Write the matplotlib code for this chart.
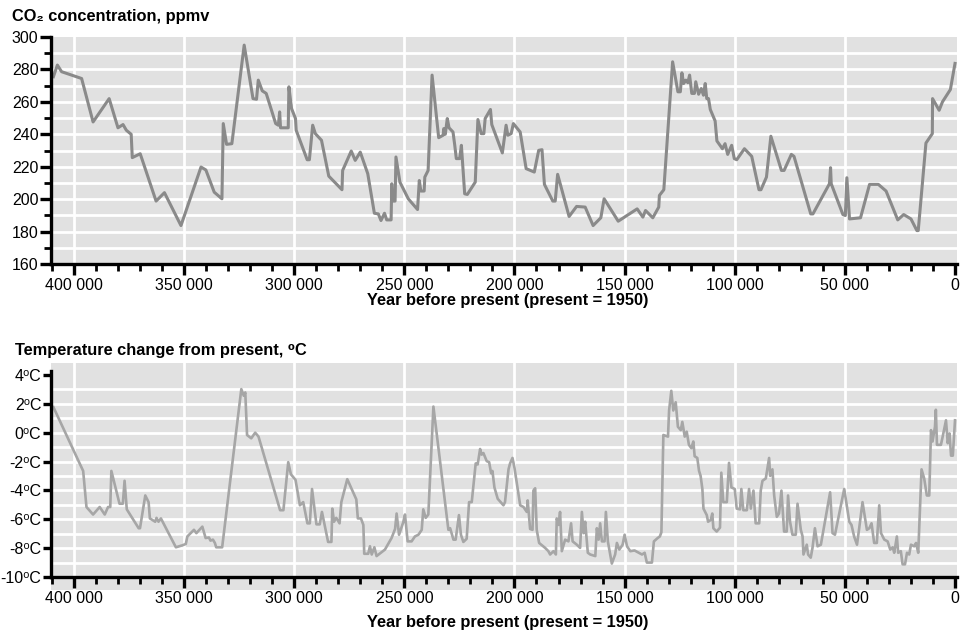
import numpy as np
import matplotlib.pyplot as plt
from matplotlib.ticker import MultipleLocator

plt.rcParams['font.family'] = ['Liberation Sans', 'DejaVu Sans']

# CO2 (ppmv), oldest first
co2_years = [409300, 407500, 405600, 396500, 391300, 384000, 380000, 377700, 376200, 374000,
             373500, 369900, 362700, 358900, 351400, 342300, 340100, 336300, 332800, 332200,
             330700, 328300, 322700, 318700, 317100, 316300, 314500, 312700, 308400, 307200,
             306600, 306200, 302700, 302400, 301200, 299400, 299100, 294100, 293100, 291600,
             290400, 287600, 284300, 278300, 278000, 274100, 272300, 270000, 266600, 263600,
             261800, 260600, 259000, 258000, 256000, 255700, 255300, 254200, 253800, 252000,
             248200, 244000, 243200, 242500, 241000, 240700, 239200, 237400, 234400, 232400,
             232100, 231400, 230500, 229700, 227900, 227100, 226400, 224900, 224100, 222600,
             221400, 217800, 216600, 215100, 213900, 213300, 210900, 210300, 205500, 203800,
             203000, 201500, 200500, 197400, 194700, 191000, 189000, 187500, 186400, 182600,
             181500, 180400, 175200, 171800, 167900, 164300, 160800, 159300, 152900, 144300,
             141700, 140500, 137200, 134500, 134200, 132200, 128200, 125800, 124700, 124000,
             123200, 122200, 121300, 120500, 119500, 118300, 117700, 116400, 115200, 114200,
             113400, 112700, 111900, 111100, 108900, 108100, 105600, 104400, 103200, 101400,
             100200, 99100, 95600, 92300, 89000, 88100, 85600, 83600, 78800, 77600,
             74300, 73100, 65500, 64500, 57000, 56500, 56200, 50900, 49800, 49100,
             47900, 42900, 38800, 34800, 31300, 26000, 23300, 20000, 17300, 16700,
             13200, 10300, 10200, 7200, 5700, 2100, 0]
co2_ppm = [275.5, 282.7, 278.6, 274.4, 247.6, 262.0, 244.0, 246.0, 242.5, 240.0,
           225.6, 228.0, 198.8, 204.0, 183.7, 219.8, 218.0, 204.3, 200.2, 246.6,
           233.8, 234.2, 295.0, 262.0, 261.6, 273.4, 266.8, 265.2, 246.6, 245.6,
           253.8, 244.0, 244.0, 269.3, 255.9, 249.7, 242.5, 224.3, 224.3, 245.6,
           240.4, 236.3, 214.2, 205.8, 217.7, 229.7, 223.9, 229.0, 215.7, 191.3,
           190.9, 186.8, 191.3, 187.2, 187.2, 209.5, 198.8, 198.8, 226.0, 210.5,
           200.2, 193.6, 211.5, 205.0, 205.0, 213.6, 217.7, 276.5, 237.9, 239.4,
           243.5, 240.0, 249.7, 244.0, 241.4, 233.2, 225.0, 225.0, 233.2, 203.3,
           202.9, 210.5, 249.1, 240.4, 240.4, 249.7, 255.3, 246.0, 228.5, 245.6,
           239.4, 240.4, 246.6, 241.4, 218.8, 216.7, 230.1, 230.5, 209.1, 198.8,
           198.8, 215.3, 189.3, 195.5, 195.1, 183.7, 188.5, 200.2, 186.4, 194.0,
           188.9, 193.0, 188.5, 195.1, 202.3, 205.8, 284.7, 266.2, 266.2, 277.9,
           271.3, 273.4, 271.8, 276.5, 265.2, 265.2, 272.4, 264.7, 268.2, 264.1,
           271.3, 262.0, 262.0, 255.3, 248.2, 235.9, 231.1, 234.2, 227.6, 233.2,
           225.0, 224.3, 231.1, 226.4, 205.8, 205.8, 213.6, 238.8, 217.7, 217.7,
           227.6, 226.4, 190.9, 190.9, 209.5, 219.4, 209.5, 190.5, 189.9, 213.2,
           187.8, 188.5, 209.1, 209.1, 205.0, 187.2, 190.5, 187.8, 180.6, 180.6,
           234.6, 240.4, 262.0, 254.8, 260.0, 267.6, 283.7]

# temperature change from present (deg C), oldest first
temp_years = [409300, 395800, 394300, 391300, 388300, 386000, 384500, 383500, 383000, 379300,
              377800, 377000, 376000, 370600, 370000, 367600, 366100, 365500, 363100, 362500,
              361600, 360500, 353700, 350700, 349200, 348500, 345500, 344400, 341700, 340200,
              338700, 338000, 336900, 336000, 335400, 332700, 324000, 322900, 322200, 321400,
              319500, 317700, 316200, 306400, 304900, 302700, 301500, 299400, 297400, 295900,
              294000, 292900, 291900, 289900, 288400, 287400, 284600, 283100, 282700, 281900,
              280900, 279400, 278600, 275900, 271800, 271100, 269700, 268600, 268200, 266400,
              265600, 264800, 263600, 262600, 258800, 255800, 254200, 253500, 252400, 250500,
              249700, 248500, 246700, 245200, 243600, 242100, 241400, 240300, 239100, 236800,
              230000, 229200, 227700, 226700, 225200, 224300, 223200, 221700, 220600, 219400,
              217600, 216700, 215600, 214900, 214100, 212600, 211500, 210600, 210000, 209100,
              207600, 205000, 204300, 202700, 202000, 200900, 200000, 197400, 195900, 194400,
              194000, 192900, 191800, 191400, 190600, 189900, 188800, 186100, 184600, 183800,
              182300, 181200, 180800, 180000, 179300, 178500, 177000, 175500, 174300, 173600,
              171700, 170200, 169400, 168600, 167900, 166700, 165600, 163300, 162600, 161800,
              161100, 160300, 159100, 158500, 157600, 155800, 154300, 153500, 152400, 150900,
              150000, 148900, 147400, 145500, 143600, 142100, 140900, 139900, 137600, 136700,
              135000, 134000, 133300, 132400, 130300, 129800, 128800, 127900, 126800, 125800,
              124500, 123800, 122700, 121800, 120800, 119700, 118800, 118200, 117000, 116200,
              115500, 114700, 114200, 112700, 112100, 110900, 110200, 109700, 108200, 106700,
              106100, 105200, 103600, 102600, 101500, 100000, 99100, 97600, 97000, 96100,
              94500, 93500, 92700, 91500, 90500, 88900, 88200, 87400, 85900, 84400,
              83900, 82900, 82100, 80900, 79900, 78800, 77600, 76400, 75800, 74900,
              73800, 72300, 71500, 70000, 69200, 68800, 67300, 66700, 65500, 64700,
              63600, 62400, 60900, 56700, 55600, 54500, 50300, 48000, 47000, 45800,
              44500, 43500, 42000, 40000, 38900, 37900, 36700, 35500, 34400, 33600,
              32100, 30600, 29400, 28300, 27600, 26400, 25800, 24600, 23800, 22700,
              21800, 20800, 20000, 18500, 17700, 16700, 15200, 14000, 12800, 11700,
              10900, 10200, 9100, 8700, 8200, 6400, 5600, 4100, 3300, 2500,
              1800, 1000, 0]
temp_c = [1.77, -2.65, -5.15, -5.67, -5.15, -5.67, -5.15, -5.15, -2.65, -4.92,
          -4.92, -3.33, -5.31, -6.62, -6.62, -4.35, -4.81, -5.94, -6.17, -5.90,
          -6.17, -5.94, -7.94, -7.80, -7.71, -7.19, -6.73, -6.96, -6.51, -7.30,
          -7.26, -7.48, -7.41, -7.64, -7.94, -7.94, 3.02, 2.56, 2.79, -0.16,
          -0.39, 0.00, -0.27, -5.37, -5.37, -2.04, -2.88, -3.27, -5.03, -4.81,
          -6.28, -6.28, -3.90, -6.35, -6.35, -5.49, -7.57, -7.57, -5.26, -6.17,
          -5.90, -6.28, -4.81, -3.22, -4.62, -5.94, -5.94, -6.39, -8.39, -8.39,
          -7.87, -8.44, -7.94, -8.55, -8.10, -7.30, -6.67, -5.60, -7.07, -6.21,
          -5.67, -7.53, -7.53, -7.19, -7.07, -6.73, -5.31, -5.90, -5.67, 1.81,
          -6.73, -6.62, -7.41, -7.41, -5.71, -7.07, -7.57, -7.35, -4.81, -4.81,
          -2.13, -2.20, -1.13, -1.52, -1.41, -1.97, -2.04, -2.81, -2.65, -3.79,
          -4.58, -5.03, -4.81, -2.54, -2.13, -1.75, -2.43, -5.03, -5.15, -5.49,
          -4.69, -6.67, -6.73, -4.01, -3.85, -6.73, -7.64, -7.98, -8.21, -8.44,
          -8.21, -8.44, -5.94, -6.39, -5.49, -8.21, -7.41, -7.53, -6.28, -7.53,
          -7.76, -7.98, -5.49, -6.96, -6.17, -8.32, -8.44, -8.55, -6.62, -7.41,
          -6.28, -7.53, -7.53, -5.49, -7.53, -9.07, -8.44, -7.64, -8.10, -7.76,
          -7.07, -7.87, -8.21, -8.16, -8.32, -8.44, -8.32, -9.00, -9.00, -7.53,
          -7.30, -7.19, -6.90, -0.16, -0.27, 1.54, 2.90, 1.54, 2.11, 0.41,
          0.18, 0.75, -0.27, 0.07, -0.84, -1.07, -0.61, -1.63, -1.75, -2.65,
          -2.99, -3.90, -5.26, -5.71, -6.17, -6.05, -5.60, -6.62, -6.85, -6.58,
          -2.77, -4.81, -4.81, -2.09, -3.79, -3.90, -5.26, -5.31, -3.90, -5.37,
          -5.37, -3.90, -5.26, -4.01, -6.28, -6.28, -4.01, -3.33, -3.17, -1.75,
          -2.99, -2.54, -4.35, -5.83, -5.60, -4.01, -6.85, -6.85, -4.35, -6.17,
          -7.07, -7.07, -4.92, -6.73, -7.19, -8.44, -7.76, -8.44, -8.66, -7.98,
          -6.62, -7.87, -7.76, -4.13, -6.96, -7.07, -3.90, -6.17, -6.39, -7.19,
          -7.76, -6.62, -4.81, -6.73, -6.62, -6.28, -7.64, -7.64, -5.03, -6.96,
          -7.41, -7.53, -8.10, -7.94, -8.32, -7.19, -8.32, -8.21, -9.12, -9.12,
          -8.32, -8.44, -7.76, -7.87, -7.64, -8.32, -2.54, -3.17, -4.35, -4.35,
          0.18, -0.61, 0.41, 1.59, -0.84, -0.84, -0.27, 0.86, -0.73, -0.05,
          -1.59, -1.59, 0.86]

x_ticks = [400000, 350000, 300000, 250000, 200000, 150000, 100000, 50000, 0]
x_labels = ['400 000', '350 000', '300 000', '250 000', '200 000',
            '150 000', '100 000', '50 000', '0']
co2_ticks = [160, 180, 200, 220, 240, 260, 280, 300]
temp_ticks = [-10, -8, -6, -4, -2, 0, 2, 4]
temp_labels = [f'{t}\u2070C' for t in temp_ticks]

bg = '#e1e1e1'
W, H = 967, 637
tick_fs = 11.5
title_fs = 11.8

fig = plt.figure(figsize=(W / 100, H / 100), dpi=100)
ax1 = fig.add_axes([51 / W, 1 - 264 / H, 906 / W, 227 / H])
ax2 = fig.add_axes([51 / W, 1 - 590 / H, 906 / W, 227 / H])

for ax in (ax1, ax2):
    ax.set_facecolor(bg)
    ax.set_xlim(410400, -900)
    for s in ['top', 'right']:
        ax.spines[s].set_visible(False)
    for s in ['left', 'bottom']:
        ax.spines[s].set_linewidth(2.4)
    ax.set_xticks(x_ticks, x_labels)
    ax.xaxis.set_minor_locator(MultipleLocator(10000))
    ax.tick_params(axis='x', which='major', length=8, width=2.4, pad=2, labelsize=tick_fs)
    ax.tick_params(axis='x', which='minor', length=5, width=2)
    for x in x_ticks[:-1]:
        ax.axvline(x, color='white', lw=2, zorder=0.5)

# CO2 panel
ax1.set_ylim(160, 300)
ax1.set_yticks(co2_ticks)
ax1.yaxis.set_minor_locator(MultipleLocator(10))
ax1.tick_params(axis='y', which='major', length=8, width=2.4, pad=1, labelsize=tick_fs)
ax1.tick_params(axis='y', which='minor', length=5, width=2)
for v in range(170, 300, 10):
    ax1.axhline(v, color='white', lw=2, zorder=0.5)
ax1.plot(co2_years, co2_ppm, color='#8a8a8a', lw=2.2, zorder=2)

# temperature panel
ax2.set_ylim(-10.9, 4.83)
ax2.spines['bottom'].set_position(('data', -10))
ax2.spines['left'].set_bounds(-10, 4.3)
ax2.set_yticks(temp_ticks, temp_labels)
ax2.tick_params(axis='y', which='major', length=6, width=2.4, pad=1, labelsize=tick_fs)
for v in range(-9, 4):
    ax2.axhline(v, color='white', lw=2, zorder=0.5)
ax2.plot(temp_years, temp_c, color='#a6a6a6', lw=1.9, zorder=2)

fig.text(12 / W, 1 - 17 / H, 'CO\u2082 concentration, ppmv', fontsize=title_fs,
         fontweight='bold', ha='left', va='center')
fig.text(15 / W, 1 - 350 / H, 'Temperature change from present, \u2070C', fontsize=title_fs,
         fontweight='bold', ha='left', va='center')
fig.text(508 / W, 1 - 300 / H, 'Year before present (present = 1950)', fontsize=title_fs,
         fontweight='bold', ha='center', va='center')
fig.text(508 / W, 1 - 622 / H, 'Year before present (present = 1950)', fontsize=title_fs,
         fontweight='bold', ha='center', va='center')

fig.savefig('out.png', dpi=100)
